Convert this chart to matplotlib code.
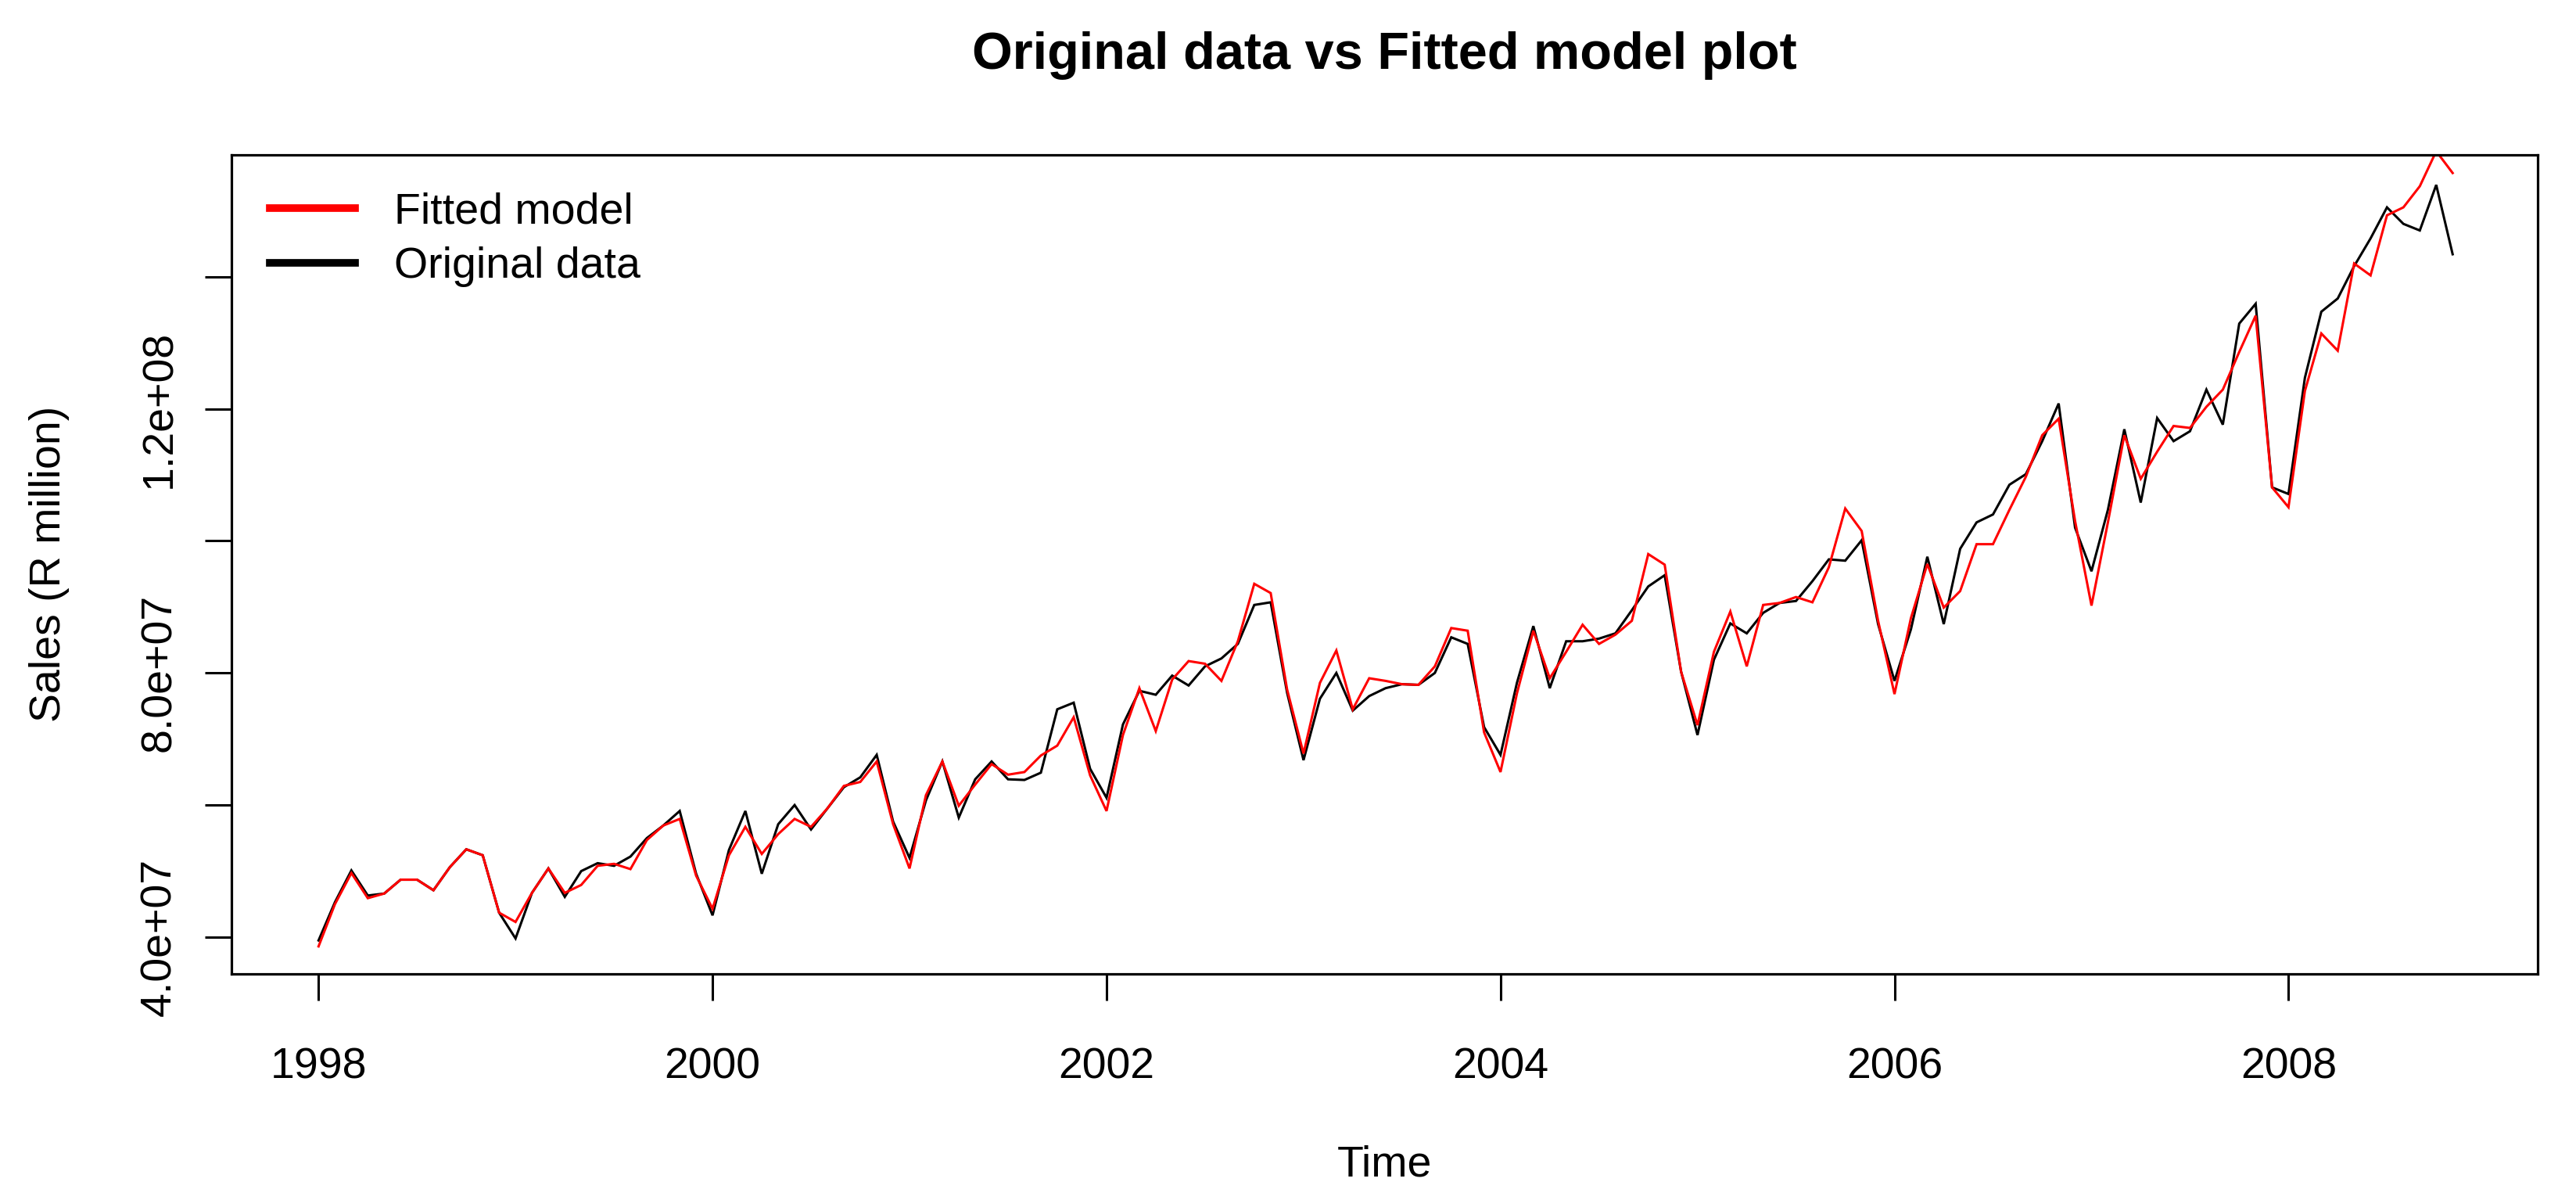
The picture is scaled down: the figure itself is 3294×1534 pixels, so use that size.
import numpy as np
import matplotlib
matplotlib.use("Agg")
import matplotlib.pyplot as plt
from matplotlib.lines import Line2D

plt.rcParams['font.family'] = ['Liberation Sans', 'DejaVu Sans']

# Monthly series, Jan 1998 .. Nov 2008 (values in units of 1e7)
start_year = 1998
original = [
    3.95, 4.53, 5.01, 4.63, 4.66, 4.87, 4.87, 4.71, 5.06, 5.33, 5.24, 4.37,
    3.98, 4.67, 5.04, 4.61, 5.00, 5.12, 5.08, 5.22, 5.50, 5.69, 5.91, 4.96,
    4.33, 5.32, 5.91, 4.96, 5.71, 6.00, 5.63, 5.95, 6.27, 6.42, 6.76, 5.75,
    5.20, 6.07, 6.66, 5.81, 6.39, 6.66, 6.39, 6.38, 6.49, 7.45, 7.55, 6.55,
    6.11, 7.22, 7.73, 7.67, 7.96, 7.81, 8.10, 8.22, 8.44, 9.03, 9.07, 7.70,
    6.68, 7.61, 8.00, 7.43, 7.65, 7.77, 7.83, 7.82, 8.00, 8.54, 8.44, 7.18,
    6.76, 7.85, 8.71, 7.77, 8.48, 8.48, 8.52, 8.60, 8.95, 9.31, 9.48, 8.02,
    7.06, 8.20, 8.75, 8.60, 8.91, 9.06, 9.09, 9.39, 9.72, 9.70, 10.01, 8.74,
    7.88, 8.66, 9.76, 8.74, 9.88, 10.28, 10.40, 10.85, 11.01, 11.51, 12.08, 10.20,
    9.54, 10.47, 11.69, 10.58, 11.86, 11.51, 11.66, 12.29, 11.76, 13.29, 13.59, 10.81,
    10.71, 12.47, 13.47, 13.67, 14.16, 14.58, 15.05, 14.80, 14.70, 15.39, 14.34,
]
fitted = [
    3.86, 4.50, 4.97, 4.59, 4.66, 4.87, 4.87, 4.71, 5.06, 5.33, 5.24, 4.37,
    4.23, 4.67, 5.04, 4.67, 4.79, 5.08, 5.11, 5.03, 5.47, 5.69, 5.79, 4.93,
    4.43, 5.24, 5.67, 5.26, 5.56, 5.79, 5.67, 5.95, 6.29, 6.35, 6.66, 5.71,
    5.04, 6.15, 6.66, 5.99, 6.31, 6.62, 6.46, 6.50, 6.75, 6.90, 7.33, 6.45,
    5.91, 7.06, 7.77, 7.12, 7.90, 8.18, 8.14, 7.88, 8.48, 9.35, 9.21, 7.75,
    6.78, 7.85, 8.34, 7.45, 7.92, 7.88, 7.83, 7.82, 8.10, 8.68, 8.64, 7.10,
    6.50, 7.69, 8.64, 7.92, 8.32, 8.73, 8.44, 8.58, 8.79, 9.80, 9.64, 8.02,
    7.21, 8.32, 8.93, 8.10, 9.03, 9.06, 9.15, 9.07, 9.60, 10.49, 10.15, 8.79,
    7.68, 8.83, 9.65, 8.99, 9.24, 9.95, 9.95, 10.47, 10.97, 11.60, 11.85, 10.30,
    9.02, 10.28, 11.60, 10.94, 11.35, 11.74, 11.71, 12.03, 12.29, 12.86, 13.41, 10.81,
    10.51, 12.27, 13.14, 12.88, 14.20, 14.02, 14.93, 15.05, 15.37, 15.90, 15.57,
]
x_ticks = [1998, 2000, 2002, 2004, 2006, 2008]
y_ticks = [4e7, 6e7, 8e7, 1.0e8, 1.2e8, 1.4e8]
y_tick_labels = ["4.0e+07", "", "8.0e+07", "", "1.2e+08", ""]
legend_labels = ["Fitted model", "Original data"]

orig = np.array(original) * 1e7
fit = np.array(fitted) * 1e7
t = start_year + np.arange(len(orig)) / 12.0

W, H = 3294, 1534
fig = plt.figure(figsize=(W / 100, H / 100), dpi=100)
L, R, T, B = 296, 3245, 197.7, 1245
ax = fig.add_axes([L / W, 1 - B / H, (R - L) / W, (B - T) / H])

ax.plot(t, orig, color='black', lw=2.2, solid_joinstyle='miter')
ax.plot(t, fit, color='#FF0000', lw=2.2, solid_joinstyle='miter')

ax.set_xlim(1997.558, 2009.265)
ax.set_ylim(3.443e7, 1.5848e8)

ax.set_xticks(x_ticks)
ax.set_xticklabels([str(v) for v in x_ticks])
ax.set_yticks(y_ticks)
ax.set_yticklabels(y_tick_labels, rotation=90, va='center')

for s in ax.spines.values():
    s.set_linewidth(2.3)
    s.set_color('black')
ax.tick_params(axis='both', length=24.5, width=2.2, labelsize=40, color='black')
ax.tick_params(axis='x', pad=43)
ax.tick_params(axis='y', pad=23)

handles = [Line2D([], [], color='#FF0000', lw=7),
           Line2D([], [], color='black', lw=7)]
ax.legend(handles, legend_labels, loc='upper left',
          bbox_to_anchor=(345 / W, 1 - 245 / H), bbox_transform=fig.transFigure,
          frameon=False, fontsize=40, handlelength=1.96, handletextpad=0.9,
          labelspacing=0.33, borderpad=0, borderaxespad=0)

cx = (L + R) / 2 / W
fig.text(cx, 1 - 71 / H, "Original data vs Fitted model plot", ha='center', va='center',
         fontsize=48, fontweight='bold')
fig.text(cx, 1 - 1490 / H, "Time", ha='center', va='center', fontsize=40)
fig.text(63 / W, 1 - ((T + B) / 2) / H, "Sales (R million)", ha='center', va='center',
         rotation=90, fontsize=40)

fig.savefig("out.png", dpi=100)
